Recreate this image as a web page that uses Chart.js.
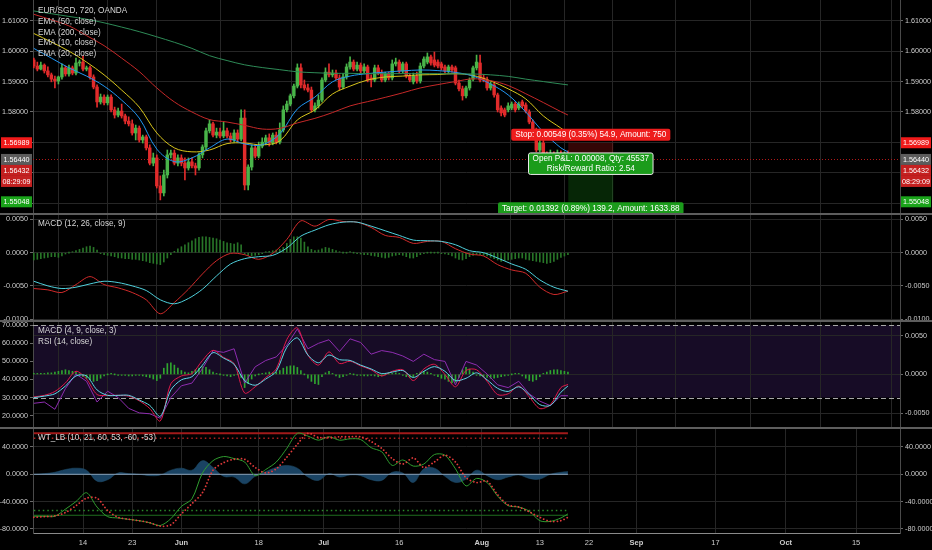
<!DOCTYPE html>
<html>
<head>
<meta charset="utf-8">
<script src="https://cdn.jsdelivr.net/npm/chart.js@4.4.1/dist/chart.umd.min.js"></script>
<style>
html, body { margin: 0; padding: 0; background: #000; }
#wrap { position: relative; width: 932px; height: 550px; background: #000; overflow: hidden; }
.pane { position: absolute; left: 0; width: 932px; }
</style>
</head>
<body>
<div id="wrap">
  <div class="pane" style="top:0;height:213px"><canvas id="pricePane"></canvas></div>
  <div class="pane" style="top:213px;height:107px"><canvas id="macdPane"></canvas></div>
  <div class="pane" style="top:320px;height:107px"><canvas id="rsiPane"></canvas></div>
  <div class="pane" style="top:427px;height:123px"><canvas id="wtPane"></canvas></div>
</div>
<script>
// EUR/SGD 12h candles, bar 0 = first bar on screen
const opens = [1.5971,1.5951,1.5941,1.5954,1.5935,1.5922,1.5908,1.5902,1.5915,1.5945,1.5925,1.5945,1.5928,1.5961,1.5964,1.5941,1.5945,1.5915,1.5882,1.5833,
1.5849,1.5830,1.5849,1.5807,1.5790,1.5803,1.5787,1.5770,1.5761,1.5731,1.5747,1.5708,1.5718,1.5682,1.5632,1.5649,1.5557,1.5534,1.5593,1.5659,
1.5665,1.5632,1.5649,1.5632,1.5616,1.5636,1.5623,1.5616,1.5659,1.5685,1.5738,1.5761,1.5724,1.5734,1.5721,1.5738,1.5721,1.5708,1.5731,1.5711,
1.5780,1.5560,1.5619,1.5682,1.5655,1.5688,1.5701,1.5715,1.5698,1.5724,1.5701,1.5741,1.5807,1.5826,1.5853,1.5885,1.5945,1.5889,1.5879,1.5872,
1.5807,1.5820,1.5839,1.5905,1.5931,1.5922,1.5928,1.5912,1.5882,1.5915,1.5948,1.5964,1.5941,1.5954,1.5935,1.5948,1.5912,1.5905,1.5945,1.5928,
1.5905,1.5925,1.5912,1.5958,1.5964,1.5935,1.5958,1.5918,1.5899,1.5918,1.5902,1.5951,1.5964,1.5981,1.5971,1.5964,1.5958,1.5948,1.5935,1.5948,
1.5945,1.5895,1.5876,1.5853,1.5879,1.5908,1.5945,1.5961,1.5912,1.5905,1.5879,1.5889,1.5856,1.5813,1.5807,1.5807,1.5813,1.5826,1.5813,1.5833,
1.5823,1.5800,1.5767,1.5741,1.5675,1.5698,1.5659,1.5642,1.5659,1.5652,1.5665,1.5649,1.5662];
const highs = [1.5977,1.5964,1.5964,1.5958,1.5948,1.5928,1.5918,1.5918,1.5958,1.5951,1.5954,1.5951,1.5977,1.5971,1.5984,1.5951,1.5951,1.5922,1.5889,1.5859,
1.5856,1.5856,1.5856,1.5816,1.5813,1.5826,1.5793,1.5784,1.5774,1.5757,1.5754,1.5724,1.5724,1.5692,1.5665,1.5659,1.5590,1.5609,1.5675,1.5675,
1.5675,1.5659,1.5659,1.5649,1.5649,1.5649,1.5632,1.5665,1.5692,1.5747,1.5774,1.5767,1.5747,1.5747,1.5767,1.5747,1.5731,1.5741,1.5741,1.5807,
1.5807,1.5626,1.5692,1.5692,1.5701,1.5715,1.5724,1.5728,1.5731,1.5734,1.5764,1.5820,1.5836,1.5859,1.5892,1.5958,1.5958,1.5905,1.5892,1.5882,
1.5830,1.5856,1.5912,1.5945,1.5958,1.5938,1.5938,1.5922,1.5925,1.5958,1.5981,1.5971,1.5964,1.5961,1.5958,1.5954,1.5922,1.5954,1.5954,1.5938,
1.5931,1.5931,1.5971,1.5977,1.5971,1.5964,1.5964,1.5925,1.5928,1.5931,1.5961,1.5981,1.5994,1.5987,1.5997,1.5971,1.5964,1.5954,1.5954,1.5954,
1.5951,1.5905,1.5885,1.5885,1.5912,1.5951,1.5987,1.5987,1.5922,1.5915,1.5899,1.5895,1.5862,1.5820,1.5813,1.5830,1.5833,1.5833,1.5833,1.5839,
1.5830,1.5807,1.5774,1.5747,1.5708,1.5708,1.5669,1.5675,1.5669,1.5675,1.5672,1.5669,1.5672];
const lows = [1.5945,1.5935,1.5938,1.5928,1.5915,1.5899,1.5879,1.5892,1.5908,1.5918,1.5918,1.5922,1.5922,1.5951,1.5935,1.5935,1.5908,1.5876,1.5816,1.5826,
1.5823,1.5823,1.5800,1.5780,1.5784,1.5780,1.5761,1.5754,1.5724,1.5708,1.5701,1.5698,1.5675,1.5626,1.5623,1.5550,1.5511,1.5524,1.5583,1.5649,
1.5626,1.5623,1.5623,1.5577,1.5609,1.5616,1.5593,1.5609,1.5649,1.5675,1.5731,1.5718,1.5715,1.5715,1.5715,1.5715,1.5701,1.5701,1.5701,1.5705,
1.5544,1.5544,1.5609,1.5649,1.5649,1.5682,1.5692,1.5688,1.5692,1.5695,1.5695,1.5734,1.5800,1.5820,1.5846,1.5879,1.5879,1.5872,1.5866,1.5800,
1.5800,1.5813,1.5833,1.5899,1.5915,1.5915,1.5905,1.5872,1.5876,1.5908,1.5941,1.5935,1.5935,1.5928,1.5928,1.5899,1.5882,1.5899,1.5922,1.5899,
1.5899,1.5905,1.5905,1.5951,1.5928,1.5928,1.5912,1.5899,1.5892,1.5895,1.5895,1.5945,1.5958,1.5954,1.5948,1.5945,1.5938,1.5928,1.5928,1.5931,
1.5889,1.5869,1.5839,1.5846,1.5872,1.5902,1.5938,1.5899,1.5899,1.5872,1.5872,1.5849,1.5800,1.5787,1.5784,1.5800,1.5807,1.5800,1.5807,1.5813,
1.5797,1.5761,1.5734,1.5669,1.5669,1.5646,1.5626,1.5636,1.5642,1.5646,1.5642,1.5642,1.5639];
const closes = [1.5951,1.5941,1.5954,1.5935,1.5922,1.5908,1.5902,1.5915,1.5945,1.5925,1.5945,1.5928,1.5961,1.5964,1.5941,1.5945,1.5915,1.5882,1.5833,1.5849,
1.5830,1.5849,1.5807,1.5790,1.5803,1.5787,1.5770,1.5761,1.5731,1.5747,1.5708,1.5718,1.5682,1.5632,1.5649,1.5557,1.5534,1.5593,1.5659,1.5665,
1.5632,1.5649,1.5632,1.5616,1.5636,1.5623,1.5616,1.5659,1.5685,1.5738,1.5761,1.5724,1.5734,1.5721,1.5738,1.5721,1.5708,1.5731,1.5711,1.5780,
1.5560,1.5619,1.5682,1.5655,1.5688,1.5701,1.5715,1.5698,1.5724,1.5701,1.5741,1.5807,1.5826,1.5853,1.5885,1.5945,1.5889,1.5879,1.5872,1.5807,
1.5820,1.5839,1.5905,1.5931,1.5922,1.5928,1.5912,1.5882,1.5915,1.5948,1.5964,1.5941,1.5954,1.5935,1.5948,1.5905,1.5905,1.5945,1.5928,1.5905,
1.5925,1.5912,1.5958,1.5964,1.5935,1.5958,1.5918,1.5905,1.5918,1.5902,1.5951,1.5974,1.5981,1.5961,1.5954,1.5951,1.5945,1.5935,1.5948,1.5938,
1.5895,1.5876,1.5853,1.5879,1.5905,1.5945,1.5964,1.5905,1.5905,1.5879,1.5892,1.5856,1.5807,1.5797,1.5790,1.5820,1.5826,1.5807,1.5826,1.5820,
1.5803,1.5767,1.5741,1.5675,1.5698,1.5652,1.5642,1.5659,1.5652,1.5665,1.5649,1.5662,1.5644];

// EMAs, read every 5 bars
const emaIdx = [0,5,10,15,20,25,30,35,40,45,50,55,60,65,70,75,80,85,90,95,100,105,110,115,120,125,130,135,140,145,150,152];
const ema50 = [1.6121,1.6103,1.6083,1.6051,1.6018,1.5977,1.5933,1.5879,1.5833,1.5800,1.5775,1.5767,1.5756,1.5744,1.5746,1.5764,1.5779,1.5798,1.5820,1.5834,1.5848,1.5863,1.5879,1.5890,1.5900,1.5909,1.5903,1.5887,1.5860,1.5831,1.5801,1.5790];
const ema200 = [1.6132,1.6123,1.6114,1.6105,1.6093,1.6079,1.6064,1.6047,1.6029,1.6009,1.5985,1.5969,1.5955,1.5946,1.5939,1.5932,1.5929,1.5927,1.5927,1.5926,1.5926,1.5926,1.5926,1.5926,1.5925,1.5925,1.5922,1.5917,1.5908,1.5900,1.5892,1.5889];
const ema10 = [1.6009,1.5977,1.5945,1.5918,1.5885,1.5839,1.5780,1.5678,1.5637,1.5649,1.5682,1.5711,1.5695,1.5692,1.5728,1.5810,1.5849,1.5899,1.5918,1.5926,1.5931,1.5935,1.5938,1.5936,1.5930,1.5918,1.5892,1.5856,1.5800,1.5734,1.5682,1.5669];
const ema20 = [1.6058,1.6030,1.6000,1.5964,1.5922,1.5872,1.5816,1.5731,1.5682,1.5669,1.5675,1.5696,1.5698,1.5692,1.5705,1.5774,1.5807,1.5859,1.5885,1.5905,1.5915,1.5918,1.5922,1.5923,1.5926,1.5920,1.5902,1.5876,1.5843,1.5787,1.5747,1.5731];

// MACD (12, 26, 9), lines read every 4 bars, histogram per bar
const macdIdx = [0,4,8,12,16,20,24,28,32,36,40,44,48,52,56,60,64,68,72,76,80,84,88,92,96,100,104,108,112,116,120,124,128,132,136,140,144,148,152];
const macdLine = [-0.0054,-0.0056,-0.0060,-0.0048,-0.0036,-0.0048,-0.0053,-0.0060,-0.0071,-0.0092,-0.0075,-0.0055,-0.0032,-0.0012,-0.0001,-0.0003,-0.0010,-0.0001,0.0020,0.0048,0.0040,0.0050,0.0047,0.0046,0.0038,0.0026,0.0023,0.0014,0.0017,0.0017,0.0006,-0.0002,-0.0005,-0.0018,-0.0026,-0.0031,-0.0052,-0.0063,-0.0058];
const macdSignal = [-0.0043,-0.0050,-0.0054,-0.0052,-0.0047,-0.0043,-0.0045,-0.0050,-0.0057,-0.0071,-0.0077,-0.0069,-0.0055,-0.0035,-0.0017,-0.0009,-0.0006,-0.0004,0.0007,0.0025,0.0034,0.0042,0.0046,0.0046,0.0040,0.0033,0.0026,0.0019,0.0018,0.0017,0.0012,0.0003,0.0000,-0.0008,-0.0017,-0.0025,-0.0041,-0.0052,-0.0058];
const macdHist = [-0.0011,-0.0010,-0.0009,-0.0008,-0.0007,-0.0006,-0.0006,-0.0007,-0.0005,-0.0002,
0.0000,0.0001,0.0003,0.0005,0.0007,0.0009,0.0010,0.0008,0.0004,-0.0001,
-0.0003,-0.0004,-0.0005,-0.0006,-0.0008,-0.0008,-0.0009,-0.0009,-0.0010,-0.0010,
-0.0011,-0.0012,-0.0013,-0.0015,-0.0016,-0.0017,-0.0018,-0.0014,-0.0008,-0.0003,
0.0002,0.0006,0.0009,0.0012,0.0015,0.0018,0.0021,0.0023,0.0024,0.0024,
0.0023,0.0022,0.0021,0.0019,0.0017,0.0015,0.0014,0.0013,0.0015,0.0012,
-0.0002,-0.0004,-0.0005,-0.0004,-0.0003,-0.0001,0.0001,0.0002,0.0003,0.0004,
0.0005,0.0008,0.0014,0.0020,0.0024,0.0024,0.0022,0.0016,0.0009,0.0005,
0.0003,0.0004,0.0006,0.0008,0.0007,0.0005,0.0003,0.0001,0.0000,0.0000,
0.0001,0.0000,-0.0001,-0.0002,-0.0003,-0.0003,-0.0004,-0.0005,-0.0006,-0.0007,
-0.0008,-0.0007,-0.0005,-0.0004,-0.0003,-0.0004,-0.0006,-0.0008,-0.0008,-0.0006,
-0.0003,-0.0001,0.0000,0.0000,0.0000,0.0000,-0.0001,-0.0002,-0.0003,-0.0005,
-0.0008,-0.0010,-0.0011,-0.0009,-0.0006,-0.0004,-0.0003,-0.0003,-0.0004,-0.0005,
-0.0007,-0.0009,-0.0011,-0.0013,-0.0012,-0.0011,-0.0010,-0.0009,-0.0008,-0.0008,
-0.0010,-0.0011,-0.0012,-0.0013,-0.0014,-0.0015,-0.0016,-0.0015,-0.0013,-0.0010,
-0.0007,-0.0005,-0.0003];

// MACD (4, 9, 3) + RSI (14) and WaveTrend, lines read every 3 bars
const oscIdx = [0,3,6,9,12,15,18,21,24,27,30,33,36,39,42,45,48,51,54,57,60,63,66,69,72,75,78,81,84,87,90,93,96,99,102,105,108,111,114,117,120,123,126,129,132,135,138,141,144,147,150,152];
const rsiLine = [26.8,27.5,23.5,35,43,39,27.5,33.5,30,24,21.5,21,18.5,30,36.5,38,46,56,55,57,38,47,50.5,52.5,59,68,57,60,62,55.5,62.5,60.5,54,56,55,53,50,54,51,50,37,50,48,43,37,35.5,39,32,28,25.5,31,31];
const fastMacd = [-0.0029,-0.0027,-0.0022,-0.0011,0.0004,-0.0006,-0.0026,-0.0027,-0.0027,-0.0028,-0.0034,-0.0044,-0.0060,-0.0012,-0.0002,0.0001,0.0018,0.0031,0.0022,0.0014,-0.0024,-0.0016,-0.0004,0.0007,0.0045,0.0060,0.0025,0.0012,0.0029,0.0014,0.0017,0.0011,0.0006,-0.0002,0.0004,0.0006,-0.0008,0.0007,0.0013,0.0000,-0.0016,0.0005,0.0006,-0.0009,-0.0026,-0.0025,-0.0015,-0.0029,-0.0044,-0.0039,-0.0017,-0.0013];
const fastSignal = [-0.0030,-0.0028,-0.0025,-0.0015,-0.0002,-0.0002,-0.0020,-0.0027,-0.0027,-0.0027,-0.0033,-0.0040,-0.0054,-0.0020,-0.0007,-0.0003,0.0012,0.0028,0.0021,0.0013,-0.0008,-0.0014,-0.0006,0.0004,0.0035,0.0047,0.0025,0.0015,0.0025,0.0019,0.0018,0.0012,0.0007,0.0001,0.0003,0.0005,-0.0004,0.0004,0.0010,0.0004,-0.0008,-0.0005,0.0002,-0.0007,-0.0018,-0.0022,-0.0016,-0.0026,-0.0039,-0.0040,-0.0023,-0.0015];
const fastHist = [0.0001,0.0001,0.0001,0.0001,0.0002,0.0002,0.0003,0.0004,0.0005,0.0006,
0.0005,0.0004,0.0003,0.0000,-0.0003,-0.0005,-0.0007,-0.0009,-0.0008,-0.0005,
-0.0002,0.0000,0.0001,0.0000,-0.0001,-0.0001,-0.0001,-0.0002,-0.0002,-0.0001,
-0.0001,-0.0002,-0.0003,-0.0004,-0.0006,-0.0008,-0.0005,0.0008,0.0014,0.0015,
0.0012,0.0008,0.0005,0.0003,0.0002,0.0004,0.0006,0.0008,0.0010,0.0009,
0.0006,0.0003,0.0001,0.0000,-0.0001,-0.0002,-0.0003,-0.0001,0.0000,-0.0004,
-0.0017,-0.0012,-0.0006,-0.0002,0.0000,0.0001,0.0002,0.0003,0.0002,0.0003,
0.0005,0.0008,0.0010,0.0011,0.0011,0.0009,0.0005,0.0000,-0.0005,-0.0009,
-0.0012,-0.0013,-0.0003,0.0002,0.0004,0.0001,-0.0002,-0.0004,-0.0003,-0.0001,
0.0001,0.0000,-0.0001,-0.0001,-0.0002,-0.0002,-0.0001,-0.0002,-0.0003,-0.0002,
0.0000,0.0001,0.0001,0.0002,0.0001,-0.0001,-0.0003,-0.0004,-0.0003,0.0001,
0.0003,0.0004,0.0003,0.0001,-0.0001,-0.0003,-0.0005,-0.0006,-0.0009,-0.0011,
-0.0010,-0.0004,0.0006,0.0009,0.0007,0.0003,-0.0001,-0.0002,-0.0003,-0.0004,
-0.0005,-0.0005,-0.0004,-0.0003,-0.0002,-0.0001,0.0000,0.0001,0.0001,-0.0002,
-0.0005,-0.0008,-0.0009,-0.0007,-0.0003,0.0001,0.0003,0.0005,0.0006,0.0006,
0.0005,0.0004,0.0003];
const wt1 = [-61.5,-61.5,-61.5,-51,-40,-27,-48,-62,-64,-66,-68,-71,-75,-65,-47,-36,2,20,26,23,18,-2,7,18,38,60,56,50,55,50,52,51,39,33,13,21,12,15,29,28,8,-17,-6,-12,-32,-46,-48,-54,-68,-69,-64,-58];
const wt2 = [-63,-62,-61,-56,-46,-35,-35,-53,-63,-66,-68,-71,-76,-74,-58,-43,-27,6,17,22,22,10,2,8,25,44,60,54,54,55,55,55,48,38,23,15,24,10,18,28,18,-5,-12,-10,-30,-45,-48,-55,-63,-69,-68,-63];
const wtDiff = [0,1,3,7,9,6,-10,-8,2,1,0,-2,-1,6,9,6,20,10,-3,-4,-14,-3,4,10,13,9,-4,-9,1,-4,-1,-2,-8,-9,3,2,-12,8,9,-3,-12,-7,6,-2,-8,-4,-1,-6,-7,0,3,4];
const wtLevels = [60, 53, -53, -60];
const rsiBand = [70, 30];

// axes
const timeTickPos = [14, 28, 42, 64, 82.5, 104, 127.5, 144, 158, 171.5, 194, 214, 234];
const timeTickLabels = ['14', '23', 'Jun', '18', 'Jul', '16', 'Aug', '13', '22', 'Sep', '17', 'Oct', '15'];
const priceTicks = [1.55, 1.56, 1.57, 1.58, 1.59, 1.60, 1.61];
const macdTicks = [-0.01, -0.005, 0, 0.005];
const fastTicks = [-0.005, 0, 0.005];
const rsiTicks = [20, 30, 40, 50, 60, 70];
const wtTicks = [-80, -40, 0, 40];

// long position tool
const entryPrice = 1.56440, stopPrice = 1.56989, targetPrice = 1.55048, bidPrice = 1.56432;
const positionBars = [152.1, 164.9];
const countdown = '08:29:09';

const FONT = '"Liberation Sans", Arial, sans-serif';
Chart.defaults.font.family = FONT;
Chart.defaults.color = '#c8c8c8';
const GRID = '#262626';
const X_MIN = -0.23, X_MAX = 246.5;

function pts(idx, vals) { return idx.map((k, i) => ({x: k, y: vals[i]})); }
function perBar(vals) { return vals.map((v, k) => ({x: k, y: v})); }
function span(v) { return [{x: 0, y: v}, {x: closes.length - 1, y: v}]; }

function yAxis(pos, min, max, ticks, digits, grid) {
  return {
    type: 'linear', position: pos, min: min, max: max,
    afterBuildTicks: a => { a.ticks = ticks.map(v => ({value: v})); },
    afterFit: s => { s.width = pos === 'left' ? 33 : 32; s.paddingTop = 0; s.paddingBottom = 0; },
    ticks: {font: {size: 7.2}, color: '#cccccc', padding: 2, callback: v => v.toFixed(digits)},
    grid: {color: GRID, drawOnChartArea: grid, drawTicks: true, tickLength: 3, tickColor: '#6a6a6a'},
    border: {display: true, color: '#4a4a4a'}
  };
}

function xAxis(showLabels) {
  return {
    type: 'linear', min: X_MIN, max: X_MAX, offset: false,
    afterBuildTicks: a => { a.ticks = timeTickPos.map(v => ({value: v})); },
    afterFit: s => { s.height = showLabels ? 17 : 0; s.paddingLeft = 0; s.paddingRight = 0; },
    ticks: {
      display: showLabels, autoSkip: false, maxRotation: 0, padding: 5, color: '#cccccc',
      font: c => ({size: 7.5, weight: /^[A-Z]/.test(timeTickLabels[c.index] || '') ? 'bold' : 'normal'}),
      callback: (v, i) => timeTickLabels[i]
    },
    grid: {color: GRID, drawTicks: false},
    border: {display: showLabels, color: '#8a8a8a'}
  };
}

function opts(scales) {
  return {
    responsive: true, maintainAspectRatio: false, animation: false, events: [],
    layout: {padding: 0},
    plugins: {legend: {display: false}, tooltip: {enabled: false}},
    scales: scales
  };
}

function paneDeco(legend, sepTop) {
  return {
    id: 'paneDeco',
    afterDraw(chart) {
      const c = chart.ctx;
      c.save();
      if (sepTop) { c.fillStyle = '#5e5e5e'; c.fillRect(0, 0, chart.width, 2); }
      c.font = '8.2px ' + FONT; c.fillStyle = '#d6d6d6';
      c.textAlign = 'left'; c.textBaseline = 'middle';
      legend.forEach((t, i) => c.fillText(t, chart.chartArea.left + 5, 11 + i * 10.7));
      c.restore();
    }
  };
}

function labelBox(ctx, lines, cx, top, bg, outline) {
  ctx.font = '8.2px ' + FONT;
  const w = Math.max(...lines.map(t => ctx.measureText(t).width)) + 8;
  const h = lines.length * 9.5 + 2.5;
  ctx.beginPath();
  ctx.roundRect(cx - w / 2, top, w, h, 2);
  ctx.fillStyle = bg; ctx.fill();
  if (outline) { ctx.strokeStyle = outline; ctx.lineWidth = 1; ctx.stroke(); }
  ctx.fillStyle = '#fff'; ctx.textAlign = 'center'; ctx.textBaseline = 'middle';
  lines.forEach((t, i) => ctx.fillText(t, cx, top + 6.2 + i * 9.5));
}

function axisTag(chart, yPix, text, bg) {
  const {ctx, chartArea: a, width} = chart;
  ctx.font = '7.2px ' + FONT; ctx.textAlign = 'center'; ctx.textBaseline = 'middle';
  [[a.right + 1, width - a.right - 2], [1, a.left - 2]].forEach(([l, w]) => {
    ctx.fillStyle = bg; ctx.fillRect(l, yPix - 5.5, w, 11);
    ctx.fillStyle = '#fff'; ctx.fillText(text, l + w / 2, yPix + 0.5);
  });
}

const positionTool = {
  id: 'positionTool',
  beforeDatasetsDraw(chart) {
    const {ctx, chartArea: a, scales: {x, y}} = chart;
    const x0 = x.getPixelForValue(positionBars[0]), x1 = x.getPixelForValue(positionBars[1]);
    const yE = y.getPixelForValue(entryPrice), yS = y.getPixelForValue(stopPrice), yT = y.getPixelForValue(targetPrice);
    ctx.save();
    ctx.fillStyle = 'rgba(215,25,25,0.24)'; ctx.fillRect(x0, yS, x1 - x0, yE - yS);
    ctx.fillStyle = 'rgba(25,160,25,0.24)'; ctx.fillRect(x0, yE, x1 - x0, yT - yE);
    const yl = Math.round(y.getPixelForValue(closes[closes.length - 1])) + 0.5;
    ctx.strokeStyle = '#b01818'; ctx.lineWidth = 1; ctx.setLineDash([1, 2]);
    ctx.beginPath(); ctx.moveTo(a.left, yl); ctx.lineTo(a.right, yl); ctx.stroke();
    ctx.restore();
  },
  afterDatasetsDraw(chart) {
    const {ctx, scales: {x, y}} = chart;
    const cx = (x.getPixelForValue(positionBars[0]) + x.getPixelForValue(positionBars[1])) / 2;
    const yE = y.getPixelForValue(entryPrice), yS = y.getPixelForValue(stopPrice), yT = y.getPixelForValue(targetPrice);
    ctx.save();
    labelBox(ctx, ['Stop: 0.00549 (0.35%) 54.9, Amount: 750'], cx, yS - 14, '#ee1d1d');
    labelBox(ctx, ['Open P&L: 0.00008, Qty: 45537', 'Risk/Reward Ratio: 2.54'], cx, yE - 6.5, '#1b9c1b', '#e8e8e8');
    labelBox(ctx, ['Target: 0.01392 (0.89%) 139.2, Amount: 1633.88'], cx, yT + 0.5, '#1b9c1b');
    ctx.restore();
  },
  afterDraw(chart) {
    const y = chart.scales.y;
    const last = closes[closes.length - 1];
    const yLast = y.getPixelForValue(last);
    chart.ctx.save();
    axisTag(chart, y.getPixelForValue(stopPrice), stopPrice.toFixed(5), '#f01a1a');
    axisTag(chart, yLast, last.toFixed(5), '#5c5c5c');
    axisTag(chart, yLast + 11, bidPrice.toFixed(5), '#c42020');
    axisTag(chart, yLast + 22, countdown, '#c42020');
    axisTag(chart, y.getPixelForValue(targetPrice), targetPrice.toFixed(5), '#1aa41a');
    chart.ctx.restore();
  }
};

const rsiBackdrop = {
  id: 'rsiBackdrop',
  beforeDraw(chart) {
    const {ctx, chartArea: a, scales: {yL}} = chart;
    const yTop = yL.getPixelForValue(rsiBand[0]), yBot = yL.getPixelForValue(rsiBand[1]);
    ctx.save(); ctx.fillStyle = '#170c26'; ctx.fillRect(a.left, yTop, a.right - a.left, yBot - yTop); ctx.restore();
  },
  beforeDatasetsDraw(chart) {
    const {ctx, chartArea: a, scales: {yL}} = chart;
    ctx.save(); ctx.strokeStyle = '#a8a8a8'; ctx.lineWidth = 1; ctx.setLineDash([5, 3]);
    rsiBand.forEach(v => {
      const yy = Math.round(yL.getPixelForValue(v)) + 0.5;
      ctx.beginPath(); ctx.moveTo(a.left, yy); ctx.lineTo(a.right, yy); ctx.stroke();
    });
    ctx.restore();
  }
};

const candleColor = c => closes[c.dataIndex] >= opens[c.dataIndex] ? '#49b449' : '#e12b2b';
const lineDs = (label, data, color, axis, tension) => ({
  type: 'line', label: label, data: data, borderColor: color, borderWidth: 1,
  pointRadius: 0, tension: tension, yAxisID: axis
});

// price pane
new Chart(document.getElementById('pricePane'), {
  type: 'line',
  data: {datasets: [
    lineDs('EMA (50, close)', pts(emaIdx, ema50), '#c62828', 'y', 0.35),
    lineDs('EMA (200, close)', pts(emaIdx, ema200), '#2e8b57', 'y', 0.35),
    lineDs('EMA (10, close)', pts(emaIdx, ema10), '#2196f3', 'y', 0.35),
    lineDs('EMA (20, close)', pts(emaIdx, ema20), '#d8c51c', 'y', 0.35),
    {type: 'bar', label: 'body', data: closes.map((c, k) => ({x: k, y: [opens[k], c]})),
     backgroundColor: candleColor, barThickness: 2.8, minBarLength: 1, grouped: false, yAxisID: 'y'},
    {type: 'bar', label: 'wick', data: closes.map((c, k) => ({x: k, y: [lows[k], highs[k]]})),
     backgroundColor: candleColor, barThickness: 1, grouped: false, yAxisID: 'y'}
  ]},
  options: opts({
    x: xAxis(false),
    y: yAxis('right', 1.5468, 1.6168, priceTicks, 5, true),
    yL: yAxis('left', 1.5468, 1.6168, priceTicks, 5, false)
  }),
  plugins: [positionTool, paneDeco(['EUR/SGD, 720, OANDA', 'EMA (50, close)', 'EMA (200, close)', 'EMA (10, close)', 'EMA (20, close)'], false)]
});

// MACD pane
new Chart(document.getElementById('macdPane'), {
  type: 'line',
  data: {datasets: [
    lineDs('Signal', pts(macdIdx, macdSignal), '#4fd0dc', 'y', 0.3),
    lineDs('MACD', pts(macdIdx, macdLine), '#d12a2a', 'y', 0.3),
    {type: 'bar', label: 'Histogram', data: perBar(macdHist), backgroundColor: '#287528',
     barThickness: 1, minBarLength: 1, grouped: false, yAxisID: 'y'}
  ]},
  options: opts({
    x: xAxis(false),
    y: yAxis('right', -0.01014, 0.00598, macdTicks, 4, true),
    yL: yAxis('left', -0.01014, 0.00598, macdTicks, 4, false)
  }),
  plugins: [paneDeco(['MACD (12, 26, close, 9)'], true)]
});

// MACD (4,9,3) + RSI pane
new Chart(document.getElementById('rsiPane'), {
  type: 'line',
  data: {datasets: [
    lineDs('Signal', pts(oscIdx, fastSignal), '#5fd7e6', 'y', 0.3),
    lineDs('MACD', pts(oscIdx, fastMacd), '#e0194a', 'y', 0.3),
    lineDs('RSI', pts(oscIdx, rsiLine), '#8e2cb0', 'yL', 0),
    {type: 'bar', label: 'Histogram', data: perBar(fastHist), backgroundColor: '#2fa52f',
     barThickness: 1, minBarLength: 1, grouped: false, yAxisID: 'y'}
  ]},
  options: opts({
    x: xAxis(false),
    y: yAxis('right', -0.00678, 0.00701, fastTicks, 4, true),
    yL: yAxis('left', 13.68, 72.93, rsiTicks, 4, false)
  }),
  plugins: [rsiBackdrop, paneDeco(['MACD (4, 9, close, 3)', 'RSI (14, close)'], true)]
});

// WaveTrend pane
const levelDs = (v, color, dash, width) => ({
  type: 'line', label: 'level ' + v, data: span(v), borderColor: color, borderWidth: width,
  borderDash: dash, pointRadius: 0, yAxisID: 'y'
});
new Chart(document.getElementById('wtPane'), {
  type: 'line',
  data: {datasets: [
    {type: 'line', label: 'WT2', data: pts(oscIdx, wt2), borderColor: '#e23a3a', borderWidth: 1.8,
     borderDash: [0.01, 3.5], borderCapStyle: 'round', pointRadius: 0, tension: 0.3, yAxisID: 'y'},
    lineDs('WT1', pts(oscIdx, wt1), '#2f9d2f', 'y', 0.3),
    levelDs(wtLevels[0], '#a11a1a', [], 2),
    levelDs(wtLevels[1], '#b02020', [1.5, 3], 1.5),
    levelDs(wtLevels[2], '#2a8a2a', [1.5, 3], 1.5),
    levelDs(wtLevels[3], '#1f6e1f', [], 1),
    {type: 'line', label: 'zero', data: span(0), borderColor: '#8aa2ba', borderWidth: 1, pointRadius: 0, yAxisID: 'y'},
    {type: 'line', label: 'WT1-WT2', data: pts(oscIdx, wtDiff), borderColor: '#21506f', borderWidth: 0.5,
     backgroundColor: '#1a4363', fill: 'origin', pointRadius: 0, tension: 0.4, yAxisID: 'y'}
  ]},
  options: opts({
    x: xAxis(true),
    y: yAxis('right', -86.0, 69.3, wtTicks, 4, true),
    yL: yAxis('left', -86.0, 69.3, wtTicks, 4, false)
  }),
  plugins: [paneDeco(['WT_LB (10, 21, 60, 53, -60, -53)'], true)]
});
</script>
</body>
</html>
